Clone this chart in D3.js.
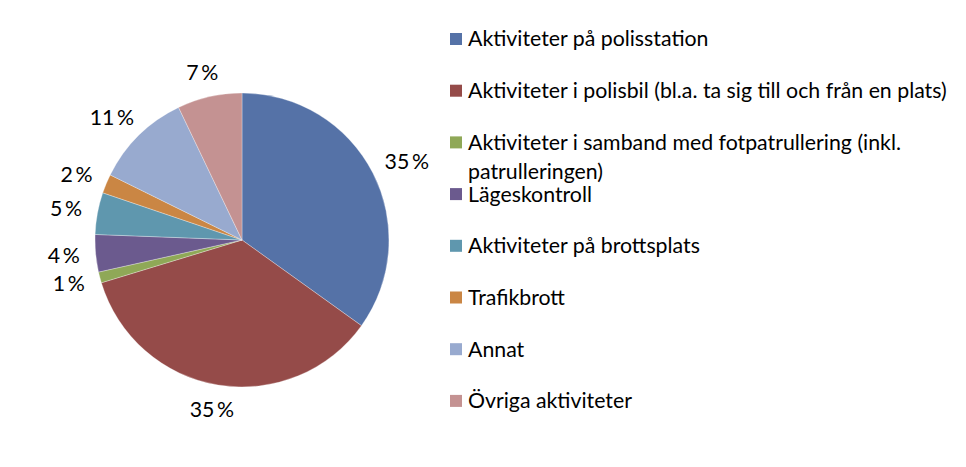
<!DOCTYPE html>
<html>
<head>
<meta charset="utf-8">
<script src="https://cdn.jsdelivr.net/npm/d3@7"></script>
<style>
  html, body { margin: 0; padding: 0; background: #fff; }
  svg { display: block; }
  text { font-family: Lato, "Open Sans", sans-serif; fill: #000; }
</style>
</head>
<body>
<svg id="chart" width="966" height="467"></svg>
<script>
const categories = [
  "Aktiviteter på polisstation",
  "Aktiviteter i polisbil (bl.a. ta sig till och från en plats)",
  "Aktiviteter i samband med fotpatrullering (inkl. patrulleringen)",
  "Lägeskontroll",
  "Aktiviteter på brottsplats",
  "Trafikbrott",
  "Annat",
  "Övriga aktiviteter"
];
const values = [34.9, 35.4, 1.2, 4.1, 4.6, 2.1, 10.6, 7.1];
const colors = ["#5572A7", "#954B49", "#8FA857", "#6B5A8E", "#5F97AE", "#CA8644", "#98AACF", "#C49292"];

const W = 966, H = 467;
const cx = 242, cy = 240, R = 147;
const svg = d3.select("#chart");

// fit font size so the longest single-line legend entry matches the reference width
const probe = svg.append("text").attr("font-size", 20).text(categories[1]);
const w20 = probe.node().getComputedTextLength();
probe.remove();
const fs = 20 * 479 / w20;

const data = categories.map((c, i) => ({ name: c, value: values[i], color: colors[i] }));

const pie = d3.pie().value(d => d.value).sort(null);
const arcs = pie(data);
const arc = d3.arc().innerRadius(0).outerRadius(R);

const g = svg.append("g").attr("transform", `translate(${cx},${cy})`);
g.selectAll("path").data(arcs).join("path")
  .attr("d", arc)
  .attr("fill", d => d.data.color)
  .attr("stroke", "#ffffff")
  .attr("stroke-opacity", 0.5)
  .attr("stroke-width", 0.6);

// outside-end data labels
const fmt = v => Math.round(v) + "\u2009%";
const labels = g.selectAll("text.lbl").data(arcs).join("text")
  .attr("class", "lbl")
  .attr("font-size", fs)
  .attr("text-anchor", "middle")
  .attr("dy", "0.35em")
  .text(d => fmt(d.data.value));
labels.each(function(d) {
  const a = (d.startAngle + d.endAngle) / 2;
  const bw = this.getComputedTextLength();
  const bh = fs * 0.8;
  const rr = R + 16;
  const px = Math.sin(a) * rr + Math.sin(a) * bw / 2;
  const py = -Math.cos(a) * rr - Math.cos(a) * bh / 2;
  d3.select(this).attr("x", px).attr("y", py);
});

// legend
const legX = 450, legY0 = 39, legStep = 51.7, maxW = 490;
const leg = svg.append("g");
data.forEach((d, i) => {
  const yc = legY0 + i * legStep;
  leg.append("rect")
    .attr("x", legX).attr("y", yc - 6)
    .attr("width", 12).attr("height", 12)
    .attr("fill", d.color);
  const t = leg.append("text")
    .attr("x", legX + 18).attr("y", yc)
    .attr("dy", "0.35em")
    .attr("font-size", fs);
  // word wrap
  const words = d.name.split(" ");
  let line = [];
  let tspan = t.append("tspan").attr("x", legX + 18);
  let lineNo = 0;
  words.forEach(wd => {
    line.push(wd);
    tspan.text(line.join(" "));
    if (tspan.node().getComputedTextLength() > maxW && line.length > 1) {
      line.pop();
      tspan.text(line.join(" "));
      line = [wd];
      lineNo++;
      tspan = t.append("tspan").attr("x", legX + 18).attr("dy", "1.38em").text(wd);
    }
  });
});
</script>
</body>
</html>
